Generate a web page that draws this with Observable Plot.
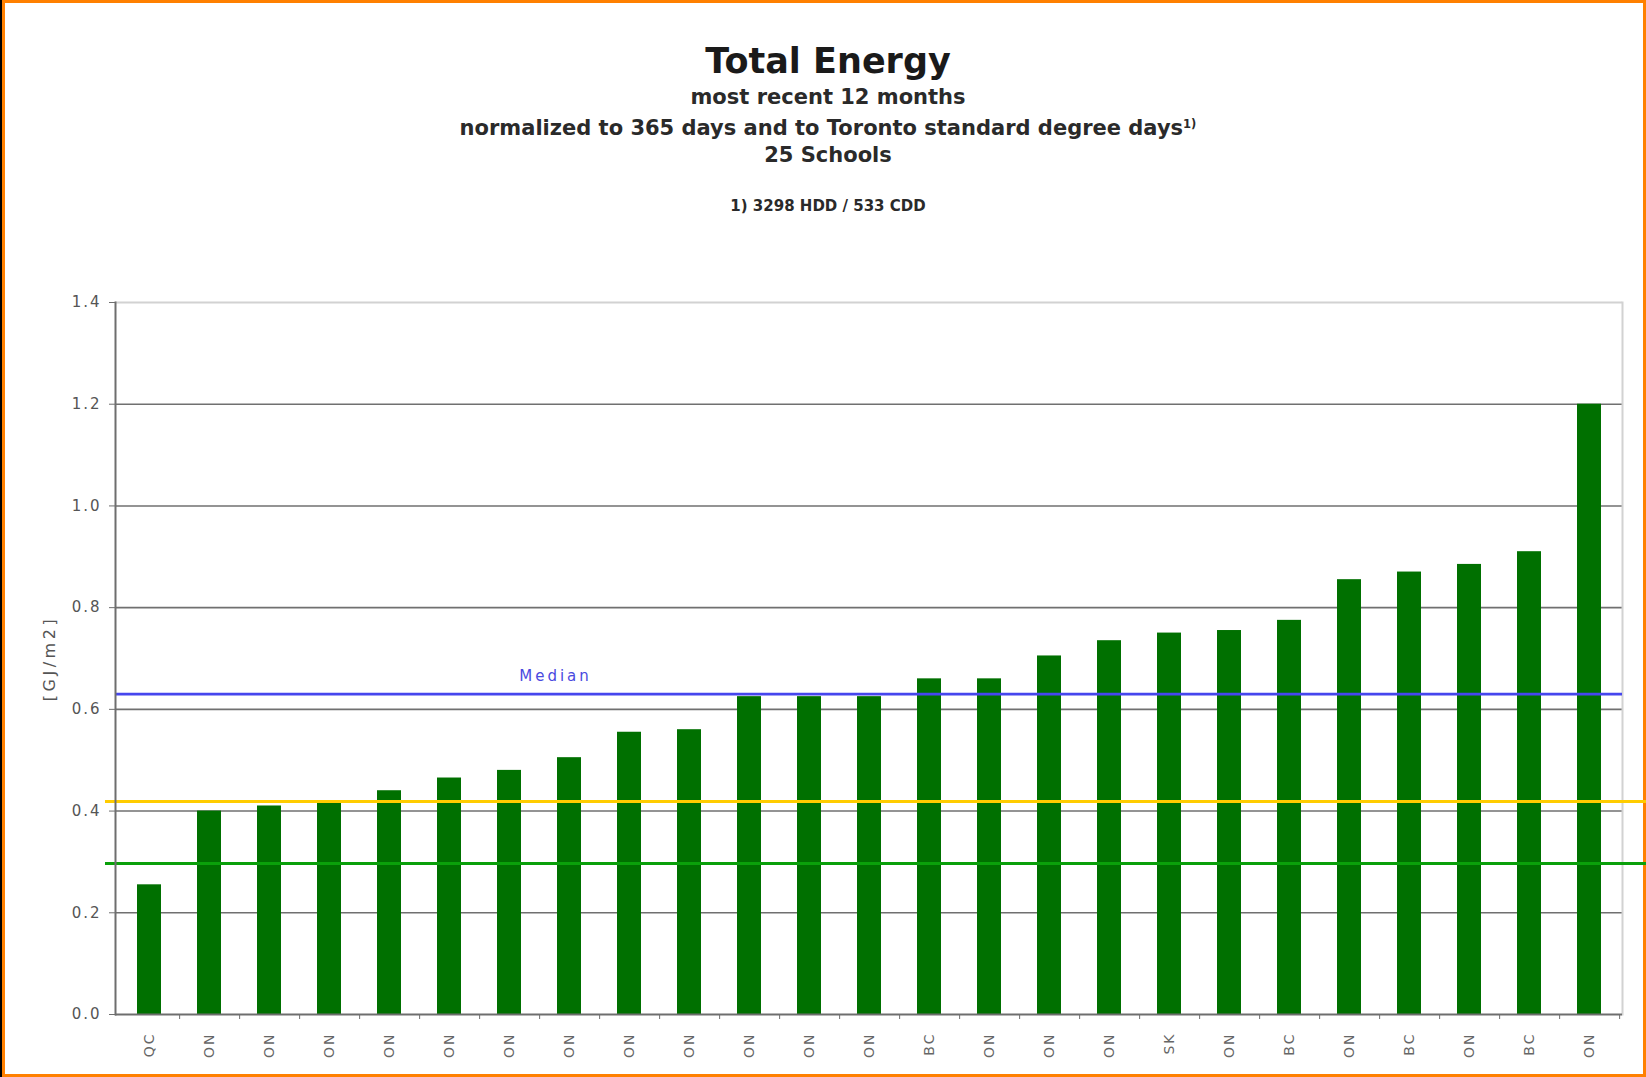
<!DOCTYPE html>
<html>
<head>
<meta charset="utf-8">
<script src="https://cdn.jsdelivr.net/npm/d3@7"></script>
<script src="https://cdn.jsdelivr.net/npm/@observablehq/plot@0.6"></script>
<style>
  body { margin: 0; background: #fff; }
  #page { position: relative; width: 1646px; height: 1077px; overflow: hidden; background: #fff;
          font-family: "DejaVu Sans", Verdana, sans-serif; }
  #frame { position: absolute; left: 0; top: 0; width: 1646px; height: 1077px; box-sizing: border-box;
           border: 3px solid #ff8000; border-left: 5px solid #ff8000; }
  #blackedge { position: absolute; left: 0; top: 0; width: 2px; height: 1077px; background: #000; }
  .t { position: absolute; left: 328px; width: 1000px; text-align: center; font-weight: bold; color: #1a1a1a;
       white-space: nowrap; }
  .t sup { font-size: 55%; vertical-align: 0.6em; line-height: 0; }
  #chart { position: absolute; left: 0; top: 230px; }
  #chart svg g[aria-label="y-axis tick label"] text { letter-spacing: 2px; }
  #chart svg g[aria-label="x-axis tick label"] text { letter-spacing: 2px; }
  #chart svg .spaced text { letter-spacing: 3px; }
  #chart svg .spacedwide text { letter-spacing: 3.5px; }
</style>
</head>
<body>
<div id="page">
  <div id="frame"></div>
  <div id="blackedge"></div>
  <div class="t" id="title" style="top:41px;font-size:35px;line-height:40px;">Total Energy</div>
  <div class="t" id="sub1" style="top:85px;font-size:21px;line-height:24px;color:#2a2a2a;">most recent 12 months</div>
  <div class="t" id="sub2" style="top:116px;font-size:21px;line-height:24px;color:#2a2a2a;">normalized to 365 days and to Toronto standard degree days<sup>1)</sup></div>
  <div class="t" id="sub3" style="top:143px;font-size:21px;line-height:24px;color:#2a2a2a;">25 Schools</div>
  <div class="t" id="note" style="top:197px;font-size:15px;line-height:18px;color:#2a2a2a;">1) 3298 HDD / 533 CDD</div>
  <div id="chart"></div>
</div>
<script>
// ---- data ----
const provinces = ["QC","ON","ON","ON","ON","ON","ON","ON","ON","ON","ON","ON","ON",
                   "BC","ON","ON","ON","SK","ON","BC","ON","BC","ON","BC","ON"];
const energy = [0.255,0.40,0.41,0.415,0.44,0.465,0.48,0.505,0.555,0.56,0.625,0.625,0.625,
                0.66,0.66,0.705,0.735,0.75,0.755,0.775,0.855,0.87,0.885,0.91,1.20];
const medianValue = 0.63;
const medianLabel = "Median";
const yellowLineValue = 0.419;
const greenLineValue = 0.297;
const yTicks = [0, 0.2, 0.4, 0.6, 0.8, 1.0, 1.2, 1.4];
const yLabel = "[GJ/m2]";

const schools = provinces.map((p, i) => ({i, province: p, value: energy[i]}));

// ---- layout ----
const W = 1646, H = 847, ML = 115, MR = 24, MT = 72, MB = 63;
const step = (W - ML - MR) / provinces.length;
const axisGray = "#6e6e6e";

const chart = Plot.plot({
  width: W, height: H,
  marginLeft: ML, marginRight: MR, marginTop: MT, marginBottom: MB,
  style: {background: "transparent", fontFamily: "DejaVu Sans, Verdana, sans-serif"},
  x: {type: "band", domain: schools.map(d => d.i), paddingInner: 0.6, paddingOuter: 0.3, axis: null},
  y: {domain: [0, 1.4], axis: null},
  marks: [
    Plot.ruleY(yTicks.slice(1, -1), {stroke: "#707070", strokeWidth: 1.6}),
    Plot.ruleY([yTicks[yTicks.length - 1]], {stroke: "#d2d2d2", strokeWidth: 2}),
    Plot.frame({anchor: "right", stroke: "#d2d2d2", strokeWidth: 2}),
    Plot.barY(schools, {x: "i", y: "value", fill: "#007000"}),
    Plot.ruleY([medianValue], {stroke: "#4646ee", strokeWidth: 2.6}),
    Plot.text([medianLabel], {x: [7], y: [medianValue], text: d => d, dx: -14, dy: -18,
      fill: "#4a4ae0", fontSize: 15, className: "spaced"}),
    Plot.ruleY([yellowLineValue], {stroke: "#ffcc00", strokeWidth: 3, insetLeft: -10, insetRight: -MR}),
    Plot.ruleY([greenLineValue], {stroke: "#0aa00a", strokeWidth: 3, insetLeft: -10, insetRight: -MR}),
    Plot.frame({anchor: "left", stroke: axisGray, strokeWidth: 2}),
    Plot.ruleY([0], {stroke: axisGray, strokeWidth: 2}),
    Plot.axisY({ticks: yTicks, tickFormat: d3.format(".1f"), tickSize: 6, tickPadding: 8,
      fontSize: 15, color: "#555", stroke: axisGray, label: null}),
    Plot.axisX({tickSize: 5, dx: step / 2, text: null, stroke: axisGray, label: null}),
    Plot.axisX({tickSize: 0, tickRotate: -90, tickPadding: 18, tickFormat: i => provinces[i],
      fontSize: 14, fill: "#666", label: null}),
    Plot.text([yLabel], {frameAnchor: "left", textAnchor: "middle", text: d => d, dx: -66, rotate: -90,
      fontSize: 16, fill: "#555", className: "spacedwide"})
  ]
});
document.getElementById("chart").appendChild(chart);
</script>
</body>
</html>
